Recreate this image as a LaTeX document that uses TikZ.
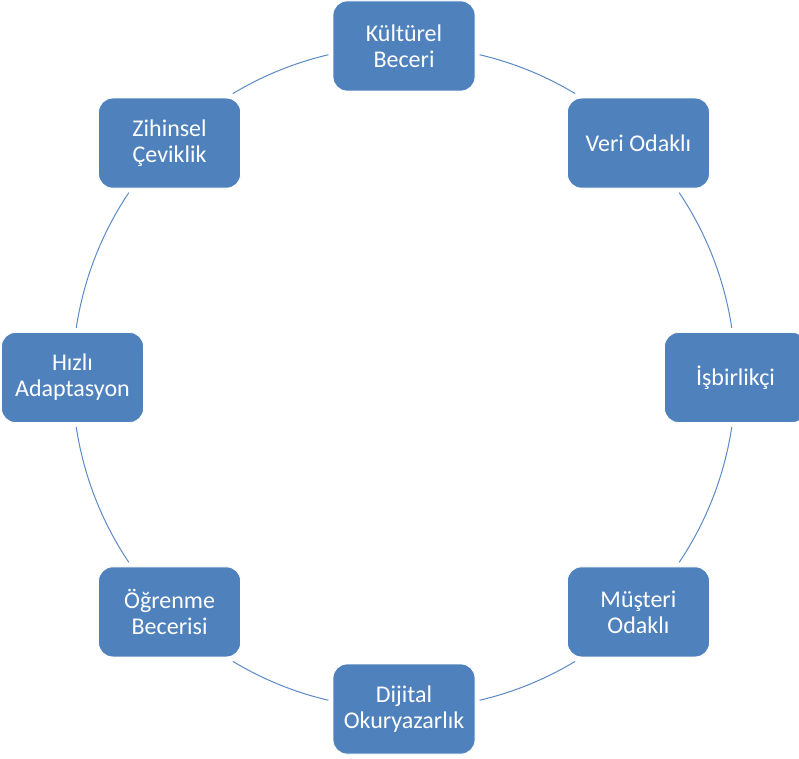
\documentclass[tikz,border=0pt]{standalone}
\usepackage{fontspec}
\setmainfont{Carlito}
\begin{document}
\begin{tikzpicture}[x=1pt,y=1pt,
  stepbox/.style={draw=white, line width=0.8pt, fill=boxblue, rounded corners=14pt,
    minimum width=142pt, minimum height=90pt, inner sep=0pt,
    text=white, align=center,
    font=\fontsize{24}{26}\selectfont},
  ring/.style={draw=ringblue, line width=1pt}]
\definecolor{boxblue}{HTML}{4F81BD}
\definecolor{ringblue}{HTML}{5B8AC6}
\def\R{331.5}
\useasboundingbox (0,0) rectangle (799,758);
\clip (0,0) rectangle (799,758);
\coordinate (o) at (404,380.5);

% cycle arcs between neighbouring boxes
\draw[ring] ([shift={(76.83:\R)}]o) arc[start angle=76.83, end angle=58.92, radius=\R];
\draw[ring] ([shift={(33.90:\R)}]o) arc[start angle=33.90, end angle=8.59, radius=\R];
\draw[ring] ([shift={(-8.59:\R)}]o) arc[start angle=-8.59, end angle=-33.90, radius=\R];
\draw[ring] ([shift={(-58.92:\R)}]o) arc[start angle=-58.92, end angle=-76.83, radius=\R];
\draw[ring] ([shift={(-103.17:\R)}]o) arc[start angle=-103.17, end angle=-121.08, radius=\R];
\draw[ring] ([shift={(-146.10:\R)}]o) arc[start angle=-146.10, end angle=-171.41, radius=\R];
\draw[ring] ([shift={(171.41:\R)}]o) arc[start angle=171.41, end angle=146.10, radius=\R];
\draw[ring] ([shift={(121.08:\R)}]o) arc[start angle=121.08, end angle=103.17, radius=\R];

% boxes around the ring
\node[stepbox] (kb) at ([shift={(90:\R)}]o) {Kültürel\\Beceri};
\node[stepbox] (vo) at ([shift={(45:\R)}]o) {Veri Odaklı};
\node[stepbox] (ib) at ([shift={(0:\R)}]o) {İşbirlikçi};
\node[stepbox] (mo) at ([shift={(-45:\R)}]o) {Müşteri\\Odaklı};
\node[stepbox] (do) at ([shift={(-90:\R)}]o) {Dijital\\Okuryazarlık};
\node[stepbox] (ob) at ([shift={(-135:\R)}]o) {Öğrenme\\Becerisi};
\node[stepbox] (ha) at ([shift={(180:\R)}]o) {Hızlı\\Adaptasyon};
\node[stepbox] (zc) at ([shift={(135:\R)}]o) {Zihinsel\\Çeviklik};
\end{tikzpicture}
\end{document}
